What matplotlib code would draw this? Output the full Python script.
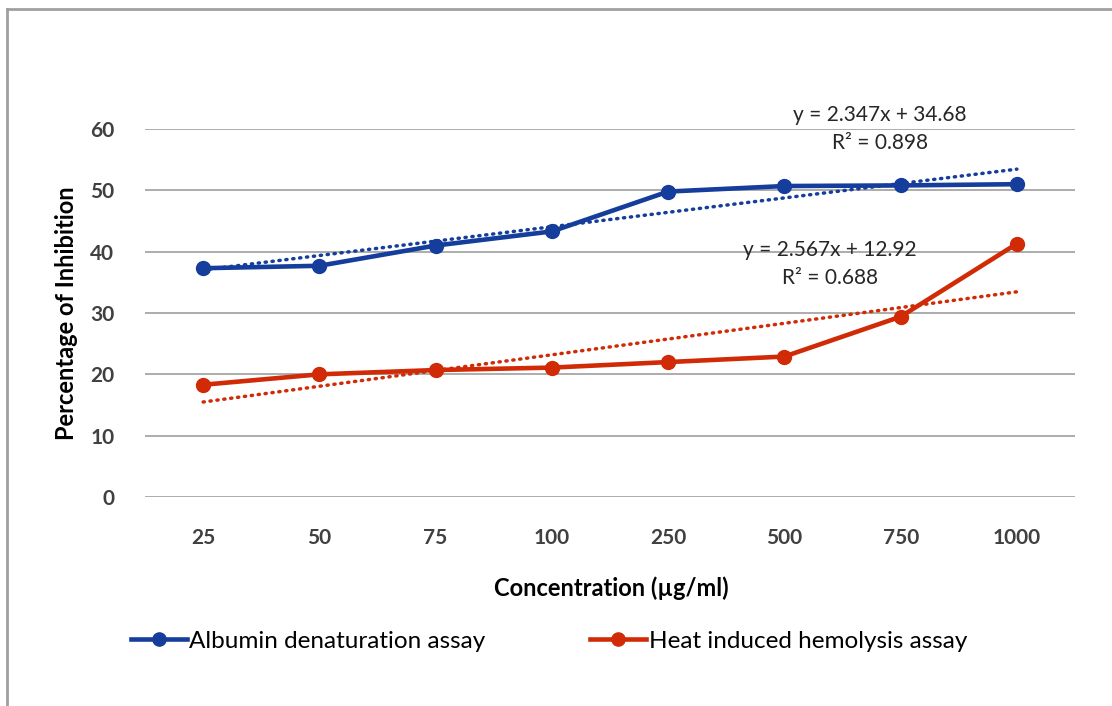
import matplotlib
matplotlib.use("Agg")
import matplotlib.pyplot as plt
from matplotlib.lines import Line2D
import numpy as np

plt.rcParams['font.family'] = ['Lato', 'DejaVu Sans']

concentrations = ["25", "50", "75", "100", "250", "500", "750", "1000"]
albumin = [37.3, 37.7, 41.0, 43.3, 49.8, 50.7, 50.8, 51.0]
hemolysis = [18.3, 20.0, 20.7, 21.1, 22.0, 22.9, 29.4, 41.3]
albumin_fit = (2.347, 34.68)
hemolysis_fit = (2.567, 12.92)
albumin_eq = ["y = 2.347x + 34.68", "R² = 0.898"]
hemolysis_eq = ["y = 2.567x + 12.92", "R² = 0.688"]
y_ticks = [0, 10, 20, 30, 40, 50, 60]

BLUE = '#143d9c'
RED = '#d02b06'
W, H = 1112, 706

fig = plt.figure(figsize=(W / 100, H / 100), dpi=100)
ax = fig.add_axes([145 / W, 1 - 497 / H, (1075 - 145) / W, (497 - 129) / H])

x = np.arange(len(concentrations))
ax.set_xlim(-0.5, len(concentrations) - 0.5)
ax.set_ylim(0, 60)

for yt in y_ticks:
    ax.axhline(yt, color='#a6a6a6', lw=1.3, zorder=0)

for vals, fit, col in [(albumin, albumin_fit, BLUE), (hemolysis, hemolysis_fit, RED)]:
    ax.plot(x, vals, color=col, lw=3.3, marker='o', ms=10, zorder=3)
    xn = x + 1
    ax.plot(x, fit[0] * xn + fit[1], color=col, lw=2.5,
            linestyle=(0, (0.35, 1.65)), dash_capstyle='round', zorder=2)

for s in ax.spines.values():
    s.set_visible(False)
ax.tick_params(length=0)
ax.set_xticks(x)
ax.set_xticklabels(concentrations, fontsize=15, fontweight='bold', color='#404040')
ax.set_yticks(y_ticks)
ax.set_yticklabels([str(v) for v in y_ticks], fontsize=15, fontweight='bold', color='#404040')
ax.tick_params(axis='x', pad=22)
ax.tick_params(axis='y', pad=22)

fig.text(611 / W, 1 - 588 / H, "Concentration (µg/ml)", ha='center', va='center',
         fontsize=17, fontweight='bold', color='black')
fig.text(66 / W, 1 - 313 / H, "Percentage of Inhibition", ha='center', va='center',
         rotation=90, fontsize=17, fontweight='bold', color='black')

# Trendline equations
for lines, (cx, cy) in [(albumin_eq, (880, 115)), (hemolysis_eq, (830, 250))]:
    fig.text(cx / W, 1 - cy / H, lines[0], ha='center', va='center', fontsize=15, color='#262626')
    fig.text(cx / W, 1 - (cy + 28) / H, lines[1], ha='center', va='center', fontsize=15, color='#262626')

# Legend
handles = [Line2D([], [], color=BLUE, lw=3.3, marker='o', ms=9.5),
           Line2D([], [], color=RED, lw=3.3, marker='o', ms=9.5)]
fig.legend(handles, ["Albumin denaturation assay", "Heat induced hemolysis assay"],
           loc='center', bbox_to_anchor=(549 / W, 1 - 641 / H), ncol=2, frameon=False,
           fontsize=17.5, handlelength=2.3, handletextpad=0.1, columnspacing=4.3)

# Frame (top and left edges)
fig.add_artist(Line2D([7 / W, 7 / W], [0, 1 - 9 / H], color='#a0a0a0', lw=2))
fig.add_artist(Line2D([7 / W, 1], [1 - 9 / H, 1 - 9 / H], color='#a0a0a0', lw=2))

fig.savefig("out.png", dpi=100)
